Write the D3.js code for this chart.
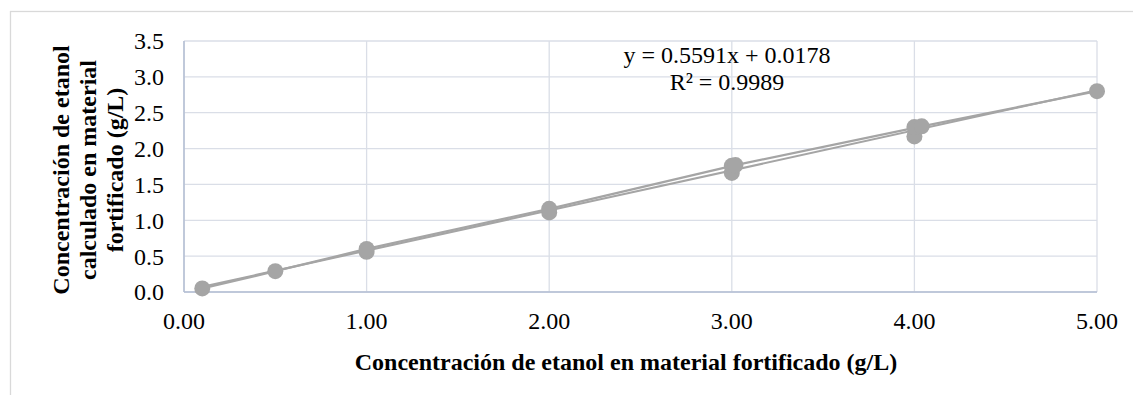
<!DOCTYPE html>
<html>
<head>
<meta charset="utf-8">
<script src="https://cdn.jsdelivr.net/npm/d3@7"></script>
<style>
  body { margin: 0; background: #fff; }
  text { font-family: "Liberation Serif", "Times New Roman", serif; fill: #000; }
</style>
</head>
<body>
<svg id="chart" width="1133" height="395"></svg>
<script>
// mean values, joined by a line
var lineX = [0.1, 0.5, 1.0, 2.0, 3.02, 4.04, 5.0];
var lineY = [0.05, 0.29, 0.60, 1.16, 1.77, 2.31, 2.80];
// replicate points, markers only
var repX = [1.0, 2.0, 3.0, 3.0, 4.0, 4.0];
var repY = [0.56, 1.11, 1.66, 1.76, 2.17, 2.30];
// trendline shown on the chart
var slope = 0.5591, intercept = 0.0178, r2 = 0.9989;
var xTicks = [0, 1, 2, 3, 4, 5];
var yTicks = [0, 0.5, 1, 1.5, 2, 2.5, 3, 3.5];
var xTitle = "Concentración de etanol en material fortificado (g/L)";
var yTitle = ["Concentración de etanol", "calculado en material", "fortificado (g/L)"];

var svg = d3.select("#chart");
var pLeft = 184, pRight = 1097, pTop = 41, pBottom = 292;
var x = d3.scaleLinear().domain([0, 5]).range([pLeft, pRight]);
var y = d3.scaleLinear().domain([0, 3.5]).range([pBottom, pTop]);

// chart frame
svg.append("rect")
  .attr("x", 10.5).attr("y", 11.5)
  .attr("width", 1140).attr("height", 400)
  .attr("fill", "none").attr("stroke", "#d9d9d9").attr("stroke-width", 1.3);

// grid
svg.append("g").selectAll("line").data(yTicks).enter().append("line")
  .attr("x1", pLeft).attr("x2", pRight)
  .attr("y1", function (d) { return y(d); }).attr("y2", function (d) { return y(d); })
  .attr("stroke", "#dadee7").attr("stroke-width", 1.3);
svg.append("g").selectAll("line").data(xTicks).enter().append("line")
  .attr("y1", pTop).attr("y2", pBottom)
  .attr("x1", function (d) { return x(d); }).attr("x2", function (d) { return x(d); })
  .attr("stroke", "#dadee7").attr("stroke-width", 1.3);

// axis lines
svg.append("line").attr("x1", pLeft).attr("x2", pLeft).attr("y1", pTop).attr("y2", pBottom)
  .attr("stroke", "#b3bed3").attr("stroke-width", 1.5);
svg.append("line").attr("x1", pLeft).attr("x2", pRight).attr("y1", pBottom).attr("y2", pBottom)
  .attr("stroke", "#b3bed3").attr("stroke-width", 1.5);

// tick labels
svg.append("g").selectAll("text").data(yTicks).enter().append("text")
  .attr("x", 164).attr("y", function (d) { return y(d); })
  .attr("dy", "0.35em").attr("text-anchor", "end")
  .style("font-size", "24px")
  .text(function (d) { return d3.format(".1f")(d); });
svg.append("g").selectAll("text").data(xTicks).enter().append("text")
  .attr("x", function (d) { return x(d); }).attr("y", 329)
  .attr("text-anchor", "middle")
  .style("font-size", "24px")
  .text(function (d) { return d3.format(".2f")(d); });

// axis titles
svg.append("text")
  .attr("x", 626).attr("y", 370).attr("text-anchor", "middle")
  .style("font-size", "24px").style("font-weight", "bold")
  .text(xTitle);
var yt = svg.append("text")
  .attr("transform", "translate(0,170) rotate(-90)")
  .attr("text-anchor", "middle")
  .style("font-size", "24px").style("font-weight", "bold");
yt.selectAll("tspan").data(yTitle).enter().append("tspan")
  .attr("x", 0)
  .attr("y", function (d, i) { return 69 + i * 27; })
  .text(function (d) { return d; });

// trendline
var xExt = d3.extent(lineX.concat(repX));
svg.append("line")
  .attr("x1", x(xExt[0])).attr("y1", y(intercept + slope * xExt[0]))
  .attr("x2", x(xExt[1])).attr("y2", y(intercept + slope * xExt[1]))
  .attr("stroke", "#a5a5a5").attr("stroke-width", 2);

// data line
var pts = lineX.map(function (d, i) { return [d, lineY[i]]; });
svg.append("path")
  .datum(pts)
  .attr("fill", "none").attr("stroke", "#a5a5a5").attr("stroke-width", 2.25)
  .attr("d", d3.line().x(function (d) { return x(d[0]); }).y(function (d) { return y(d[1]); }));

// markers
var reps = repX.map(function (d, i) { return [d, repY[i]]; });
svg.append("g").selectAll("circle").data(reps.concat(pts)).enter().append("circle")
  .attr("cx", function (d) { return x(d[0]); })
  .attr("cy", function (d) { return y(d[1]); })
  .attr("r", 8)
  .attr("fill", "#a5a5a5");

// equation label
var eq = svg.append("text").attr("text-anchor", "middle").style("font-size", "24px");
eq.append("tspan").attr("x", 727).attr("y", 63)
  .text("y = " + slope + "x + " + intercept);
eq.append("tspan").attr("x", 727).attr("y", 90)
  .text("R² = " + r2);
</script>
</body>
</html>
